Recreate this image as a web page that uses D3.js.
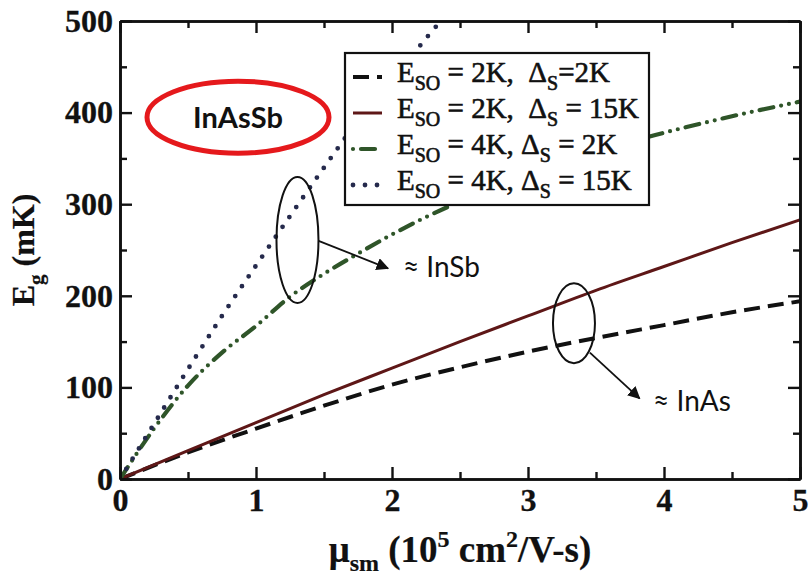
<!DOCTYPE html>
<html>
<head>
<meta charset="utf-8">
<script src="https://cdn.jsdelivr.net/npm/d3@7"></script>
<style>
  html, body { margin: 0; padding: 0; background: #fff; }
  svg { display: block; }
</style>
</head>
<body>
<svg id="chart" width="809" height="577"></svg>
<script>
// Superconducting gap E_g versus semiconductor mobility for InAsSb wires

// mobility in units of 1e5 cm^2/V-s
const mobility = [0, 0.5, 1, 1.5, 2, 2.5, 3, 3.5, 4, 4.5, 5];
const mobilityFine = [0, 0.25, 0.5, 0.75, 1, 1.25, 1.5, 1.75, 2, 2.25, 2.5, 3, 3.5, 4, 4.5, 5];
const mobilitySteep = [0, 0.25, 0.5, 0.75, 1, 1.25, 1.5, 1.75, 2, 2.25, 2.5];

// gap in mK
const gapEso2Ds2 = [0, 29, 55, 80, 103, 122, 139, 154, 168, 182, 194];
const gapEso2Ds15 = [0, 31, 61.5, 92, 121, 150, 178, 206, 232, 258, 283];
const gapEso4Ds2 = [0, 55, 102, 138, 167, 199, 224, 246, 267, 286, 303, 333, 358, 378, 396, 412];
const gapEso4Ds15 = [0, 60, 120, 178, 233, 287, 340, 391, 435, 481, 524];

const xTicks = [0, 1, 2, 3, 4, 5];
const xMinorTicks = [0.5, 1.5, 2.5, 3.5, 4.5];
const yTicks = [0, 100, 200, 300, 400, 500];
const yMinorTicks = [50, 150, 250, 350, 450];

const legendEso = ["2K", "2K", "4K", "4K"];
const legendDs = ["2K", "15K", "2K", "15K"];

const SERIF = '"Liberation Serif", "Times New Roman", serif';
const SANS = 'Lato, "Open Sans", sans-serif';
const INK = "#111111";
const NBSP = "\u00A0";

const svg = d3.select("#chart");
const margin = { left: 120, top: 21, right: 9, bottom: 98 };
const W = 809 - margin.left - margin.right;
const H = 577 - margin.top - margin.bottom;

const x = d3.scaleLinear().domain([0, 5]).range([0, W]);
const y = d3.scaleLinear().domain([0, 500]).range([H, 0]);

const g = svg.append("g").attr("transform", `translate(${margin.left},${margin.top})`);

g.append("defs").append("clipPath").attr("id", "plotClip")
  .append("rect").attr("x", 0).attr("y", 0).attr("width", W).attr("height", H);

const series = [
  { xs: mobility, ys: gapEso2Ds2, color: "#111111", width: 4, dash: "16,8", cap: "butt" },
  { xs: mobility, ys: gapEso2Ds15, color: "#5e1717", width: 3, dash: null, cap: "butt" },
  { xs: mobilityFine, ys: gapEso4Ds2, color: "#2f5529", width: 4.2, dash: "14,8,0,8,0,8", cap: "round" },
  { xs: mobilitySteep, ys: gapEso4Ds15, color: "#252a4c", width: 4.8, dash: "0,12", cap: "round" }
];

const line = d3.line().x(d => x(d[0])).y(d => y(d[1])).curve(d3.curveMonotoneX);

const plot = g.append("g").attr("clip-path", "url(#plotClip)");
series.forEach(s => {
  plot.append("path")
    .datum(s.xs.map((v, i) => [v, s.ys[i]]))
    .attr("d", line)
    .attr("fill", "none")
    .attr("stroke", s.color)
    .attr("stroke-width", s.width)
    .attr("stroke-linecap", s.cap)
    .attr("stroke-dasharray", s.dash);
});

// heavier serif text, like a scanned print
function serifText(sel, size) {
  return sel.style("font-family", SERIF).attr("font-size", size)
    .attr("fill", INK).attr("stroke", INK).attr("stroke-width", 0.6);
}

// legend
const legend = svg.append("g").attr("transform", "translate(345,53)");
legend.append("rect").attr("width", 304).attr("height", 152)
  .attr("fill", "#fff").attr("stroke", INK).attr("stroke-width", 2.2);
series.forEach((s, i) => {
  const cy = 24 + i * 36;
  legend.append("line")
    .attr("x1", 8).attr("x2", 37).attr("y1", cy).attr("y2", cy)
    .attr("stroke", s.color).attr("stroke-width", s.width)
    .attr("stroke-linecap", s.cap)
    .attr("stroke-dasharray", s.dash)
    .attr("stroke-dashoffset", i === 2 ? 30 : 0);
  const t = serifText(legend.append("text"), 29)
    .attr("x", 52).attr("y", 29 + i * 36);
  t.append("tspan").text("E");
  t.append("tspan").attr("font-size", 20).attr("dy", 7.5).text("SO");
  const sep = i < 2 ? "," + NBSP + NBSP + "Δ" : "," + NBSP + "Δ";
  t.append("tspan").attr("dy", -7.5).text(NBSP + "=" + NBSP + legendEso[i] + sep);
  t.append("tspan").attr("font-size", 20).attr("dy", 7.5).text("S");
  t.append("tspan").attr("dy", -7.5)
    .text(i === 0 ? "=" + legendDs[i] : NBSP + "=" + NBSP + legendDs[i]);
});

// annotations
const ann = svg.append("g").attr("transform", `translate(${margin.left},${margin.top})`);
ann.append("defs").append("marker")
  .attr("id", "arrowHead").attr("viewBox", "0 0 10 10")
  .attr("refX", 9).attr("refY", 5)
  .attr("markerWidth", 7).attr("markerHeight", 7)
  .attr("markerUnits", "strokeWidth")
  .attr("orient", "auto")
  .append("path").attr("d", "M0,0 L10,5 L0,10 Z").attr("fill", INK);

// InSb group
ann.append("ellipse").attr("cx", x(1.305)).attr("cy", y(261))
  .attr("rx", 21).attr("ry", 63)
  .attr("fill", "none").attr("stroke", INK).attr("stroke-width", 2);
ann.append("line").attr("x1", x(1.46)).attr("y1", y(260))
  .attr("x2", x(1.97)).attr("y2", y(230))
  .attr("stroke", INK).attr("stroke-width", 1.8).attr("marker-end", "url(#arrowHead)");
ann.append("text").style("font-family", SANS).attr("x", x(2.08)).attr("y", y(220))
  .attr("font-size", 28).attr("fill", INK).text("≈ InSb");

// InAs group
ann.append("ellipse").attr("cx", x(3.338)).attr("cy", y(170))
  .attr("rx", 21).attr("ry", 40)
  .attr("fill", "none").attr("stroke", INK).attr("stroke-width", 2);
ann.append("line").attr("x1", x(3.455)).attr("y1", y(138))
  .attr("x2", x(3.82)).attr("y2", y(88))
  .attr("stroke", INK).attr("stroke-width", 1.8).attr("marker-end", "url(#arrowHead)");
ann.append("text").style("font-family", SANS).attr("x", x(3.92)).attr("y", y(74))
  .attr("font-size", 28).attr("fill", INK).text("≈ InAs");

// InAsSb tag
ann.append("ellipse").attr("cx", 118).attr("cy", y(395))
  .attr("rx", 91).attr("ry", 36)
  .attr("fill", "none").attr("stroke", "#e5191c").attr("stroke-width", 5);
ann.append("text").style("font-family", SANS).attr("x", 118).attr("y", y(383))
  .attr("text-anchor", "middle").attr("font-size", 29).attr("font-weight", "bold")
  .attr("fill", INK).text("InAsSb");

// axes: ticks point inward on all four sides
function styleAxis(sel) {
  sel.attr("font-family", null).attr("font-size", null);
  sel.selectAll(".domain").attr("stroke", INK).attr("stroke-width", 2.6);
  sel.selectAll(".tick line").attr("stroke", INK).attr("stroke-width", 2.4);
  serifText(sel.selectAll("text"), 32).attr("font-weight", "bold").attr("stroke-width", 0.3);
}
const axes = g.append("g");
axes.append("g").attr("transform", `translate(0,${H})`)
  .call(d3.axisBottom(x).tickValues(xTicks).tickFormat(d3.format("d")).tickSize(-12).tickSizeOuter(0).tickPadding(9))
  .call(styleAxis);
axes.append("g").attr("transform", `translate(0,${H})`)
  .call(d3.axisBottom(x).tickValues(xMinorTicks).tickFormat("").tickSize(-7).tickSizeOuter(0))
  .call(styleAxis);
axes.append("g")
  .call(d3.axisTop(x).tickValues(xTicks).tickFormat("").tickSize(-12).tickSizeOuter(0))
  .call(styleAxis);
axes.append("g")
  .call(d3.axisTop(x).tickValues(xMinorTicks).tickFormat("").tickSize(-7).tickSizeOuter(0))
  .call(styleAxis);
axes.append("g")
  .call(d3.axisLeft(y).tickValues(yTicks).tickFormat(d3.format("d")).tickSize(-12).tickSizeOuter(0).tickPadding(7))
  .call(styleAxis);
axes.append("g")
  .call(d3.axisLeft(y).tickValues(yMinorTicks).tickFormat("").tickSize(-7).tickSizeOuter(0))
  .call(styleAxis);
axes.append("g").attr("transform", `translate(${W},0)`)
  .call(d3.axisRight(y).tickValues(yTicks).tickFormat("").tickSize(-12).tickSizeOuter(0))
  .call(styleAxis);
axes.append("g").attr("transform", `translate(${W},0)`)
  .call(d3.axisRight(y).tickValues(yMinorTicks).tickFormat("").tickSize(-7).tickSizeOuter(0))
  .call(styleAxis);

// axis titles
const xt = svg.append("text")
  .attr("x", margin.left + W / 2).attr("y", 562)
  .attr("text-anchor", "middle").attr("font-weight", "bold");
serifText(xt, 37).attr("stroke-width", 0.2);
xt.append("tspan").text("μ");
xt.append("tspan").attr("font-size", 24).attr("dy", 9).text("sm");
xt.append("tspan").attr("dy", -9).text(NBSP + "(10");
xt.append("tspan").attr("font-size", 24).attr("dy", -15).text("5");
xt.append("tspan").attr("dy", 15).text(NBSP + "cm");
xt.append("tspan").attr("font-size", 24).attr("dy", -15).text("2");
xt.append("tspan").attr("dy", 15).text("/V-s)");

const yt = svg.append("text")
  .attr("transform", `translate(34,${margin.top + H / 2}) rotate(-90)`)
  .attr("text-anchor", "middle").attr("font-weight", "bold");
serifText(yt, 32).attr("stroke-width", 0.2);
yt.append("tspan").text("E");
yt.append("tspan").attr("font-size", 21).attr("dy", 9).text("g");
yt.append("tspan").attr("dy", -9).text(NBSP + "(mK)");
</script>
</body>
</html>
